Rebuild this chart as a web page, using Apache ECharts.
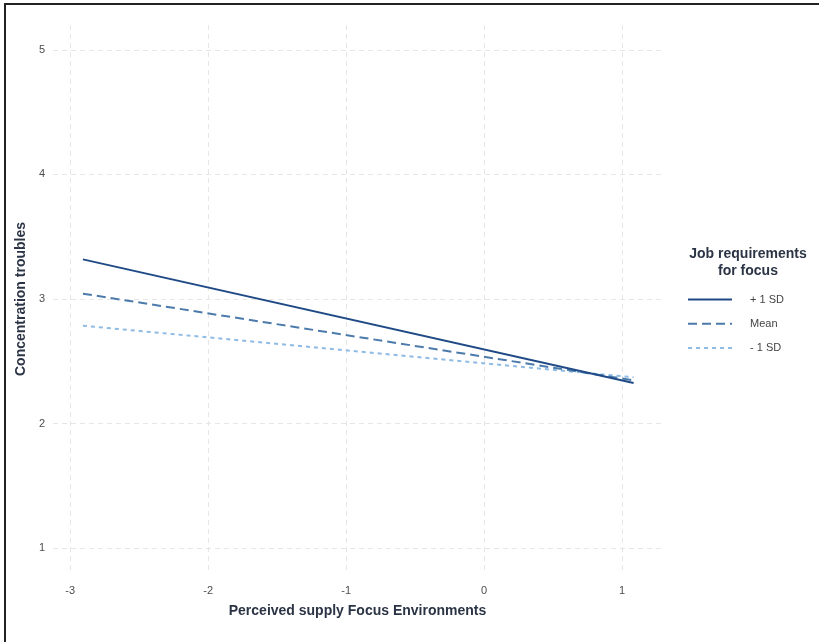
<!DOCTYPE html>
<html>
<head>
<meta charset="utf-8">
<script src="https://cdn.jsdelivr.net/npm/echarts@6/dist/echarts.min.js"></script>
<style>
  html, body { margin: 0; padding: 0; background: #ffffff; }
  #chart { width: 819px; height: 642px; }
</style>
</head>
<body>
<div id="chart"></div>
<script>
// Simple-slopes plot: concentration troubles by perceived supply of focus environments,
// at three levels of job requirements for focus.
const seriesNames = ['+ 1 SD', 'Mean', '- 1 SD'];
const supplyRange = [-2.908, 1.084];          // x values of each line's ends
const plusOneSD = [3.318, 2.325];
const meanLevel = [3.043, 2.347];
const minusOneSD = [2.786, 2.371];
const xTicks = [-3, -2, -1, 0, 1];
const yTicks = [1, 2, 3, 4, 5];

const lineColors = ['#1f4a86', '#4b7aab', '#8dbbe4'];
const lineTypes = ['solid', [9, 5], [4, 4]];
const seriesValues = [plusOneSD, meanLevel, minusOneSD];

const fontFamily = 'Liberation Sans, Arial, sans-serif';
const titleColor = '#2b3445';

const chart = echarts.init(document.getElementById('chart'), null, { renderer: 'canvas' });

const series = seriesNames.map((name, i) => ({
  name: name,
  type: 'line',
  data: supplyRange.map((x, j) => [x, seriesValues[i][j]]),
  showSymbol: false,
  symbol: 'none',
  silent: true,
  lineStyle: { color: lineColors[i], width: 2, type: lineTypes[i] },
  itemStyle: { color: lineColors[i] },
  z: 3 - i
}));

chart.setOption({
  animation: false,
  backgroundColor: '#ffffff',
  textStyle: { fontFamily: fontFamily },
  grid: { left: 53, right: 157, top: 25, bottom: 69, containLabel: false },
  xAxis: {
    type: 'value',
    min: -3.125,
    max: 1.29,
    name: 'Perceived supply Focus Environments',
    nameLocation: 'middle',
    nameGap: 31,
    nameTextStyle: { color: titleColor, fontSize: 14, fontWeight: 'bold', fontFamily: fontFamily },
    axisLine: { show: false },
    axisTick: { show: false, customValues: xTicks },
    axisLabel: { customValues: xTicks, color: '#4d4d4d', fontSize: 11, margin: 12, fontFamily: fontFamily },
    splitLine: { show: true, lineStyle: { color: '#e6e6e6', width: 1, type: [5, 4] } }
  },
  yAxis: {
    type: 'value',
    min: 0.8,
    max: 5.2,
    name: 'Concentration troubles',
    nameLocation: 'middle',
    nameGap: 21,
    nameRotate: 90,
    nameTextStyle: { color: titleColor, fontSize: 14, fontWeight: 'bold', fontFamily: fontFamily },
    axisLine: { show: false },
    axisTick: { show: false, customValues: yTicks },
    axisLabel: { customValues: yTicks, color: '#4d4d4d', fontSize: 11, margin: 8, fontFamily: fontFamily },
    splitLine: { show: true, lineStyle: { color: '#e6e6e6', width: 1, type: [5, 4] } }
  },
  legend: {
    show: true,
    orient: 'vertical',
    left: 687,
    top: 294,
    padding: 0,
    itemWidth: 44,
    itemHeight: 14,
    itemGap: 13,
    selectedMode: false,
    data: seriesNames,
    itemStyle: { opacity: 0 },
    textStyle: { color: '#444444', fontSize: 11, fontFamily: fontFamily, padding: [0, 0, 0, 13] }
  },
  graphic: [
    {
      type: 'text',
      x: 748,
      y: 246,
      style: {
        text: 'Job requirements\nfor focus',
        fill: titleColor,
        font: 'bold 14px ' + fontFamily,
        align: 'center',
        verticalAlign: 'top',
        lineHeight: 17
      }
    },
    { type: 'rect', shape: { x: 4, y: 3, width: 2, height: 642 }, style: { fill: '#222222' } },
    { type: 'rect', shape: { x: 4, y: 3, width: 820, height: 2 }, style: { fill: '#222222' } }
  ],
  series: series
});
</script>
</body>
</html>
